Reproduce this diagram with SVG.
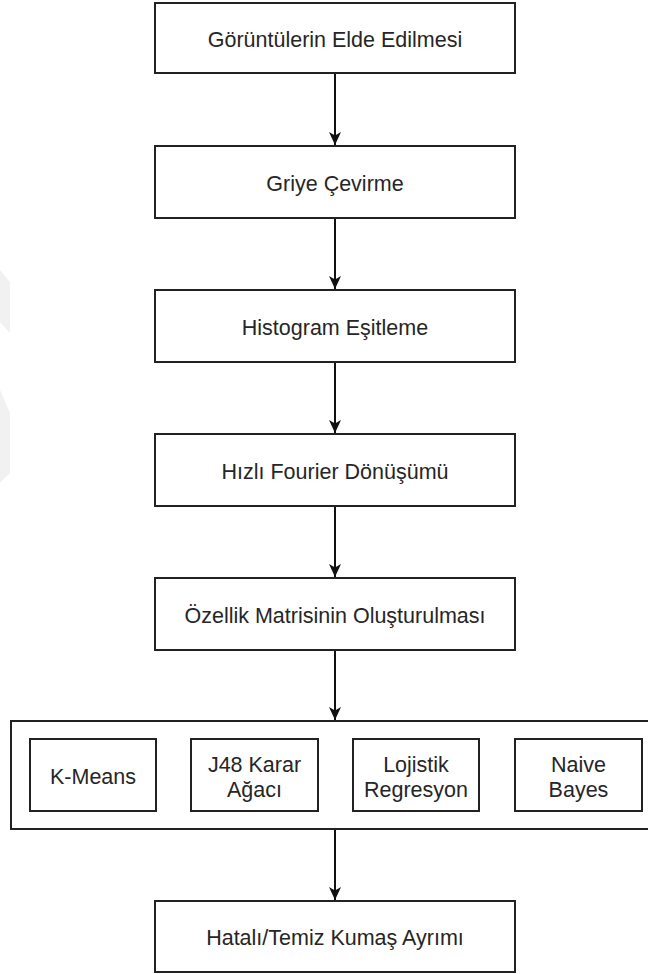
<svg xmlns="http://www.w3.org/2000/svg" width="648" height="974" viewBox="0 0 648 974">
  <style>
    .box { fill: #ffffff; stroke: #222222; stroke-width: 2; }
    .label { font-family: "Liberation Sans", Arial, sans-serif; font-size: 21.5px; fill: #262626; text-anchor: middle; }
    .edge { stroke: #111111; stroke-width: 2; fill: none; marker-end: url(#arrow); }
    .mark { fill: #f1f1f1; stroke: none; }
  </style>
  <defs>
    <marker id="arrow" viewBox="0 0 13 12" refX="13" refY="6" markerWidth="13" markerHeight="12" markerUnits="userSpaceOnUse" orient="auto">
      <path d="M0,0 L13,6 L0,12 L3.5,6 Z" fill="#111111"/>
    </marker>
  </defs>

  <rect width="648" height="974" fill="#ffffff"/>

  <!-- faint background mark at the left edge -->
  <g id="bg-mark">
    <polygon class="mark" points="0,270 10,282 10,333 0,322"/>
    <polygon class="mark" points="0,390 10,413 10,473 0,483"/>
  </g>

  <g id="n1">
    <rect class="box" x="155" y="3" width="360" height="70"/>
    <text class="label" x="335" y="46.5">Görüntülerin Elde Edilmesi</text>
  </g>
  <g id="n2">
    <rect class="box" x="155" y="146" width="360" height="72"/>
    <text class="label" x="335" y="190.5">Griye Çevirme</text>
  </g>
  <g id="n3">
    <rect class="box" x="155" y="290" width="360" height="72"/>
    <text class="label" x="335" y="334.5">Histogram Eşitleme</text>
  </g>
  <g id="n4">
    <rect class="box" x="155" y="434" width="360" height="72"/>
    <text class="label" x="335" y="478.5">Hızlı Fourier Dönüşümü</text>
  </g>
  <g id="n5">
    <rect class="box" x="155" y="578" width="360" height="72"/>
    <text class="label" x="335" y="622.5">Özellik Matrisinin Oluşturulması</text>
  </g>

  <g id="classifiers">
    <rect class="box" x="11" y="721" width="660" height="108"/>
    <g id="c-kmeans">
      <rect class="box" x="30" y="739" width="126" height="72"/>
      <text class="label" x="93" y="783.5">K-Means</text>
    </g>
    <g id="c-j48">
      <rect class="box" x="191" y="739" width="127" height="72"/>
      <text class="label" x="254.5" y="772">J48 Karar</text>
      <text class="label" x="254.5" y="797">Ağacı</text>
    </g>
    <g id="c-logistic">
      <rect class="box" x="353" y="739" width="126" height="72"/>
      <text class="label" x="416" y="772">Lojistik</text>
      <text class="label" x="416" y="797">Regresyon</text>
    </g>
    <g id="c-bayes">
      <rect class="box" x="515" y="739" width="127" height="72"/>
      <text class="label" x="578.5" y="772">Naive</text>
      <text class="label" x="578.5" y="797">Bayes</text>
    </g>
  </g>

  <g id="n7">
    <rect class="box" x="155" y="901" width="360" height="71"/>
    <text class="label" x="335" y="945">Hatalı/Temiz Kumaş Ayrımı</text>
  </g>

  <g id="edges">
    <line class="edge" x1="335" y1="74" x2="335" y2="145"/>
    <line class="edge" x1="335" y1="219" x2="335" y2="289"/>
    <line class="edge" x1="335" y1="363" x2="335" y2="433"/>
    <line class="edge" x1="335" y1="507" x2="335" y2="577"/>
    <line class="edge" x1="335" y1="651" x2="335" y2="720"/>
    <line class="edge" x1="335" y1="830" x2="335" y2="900"/>
  </g>
</svg>
